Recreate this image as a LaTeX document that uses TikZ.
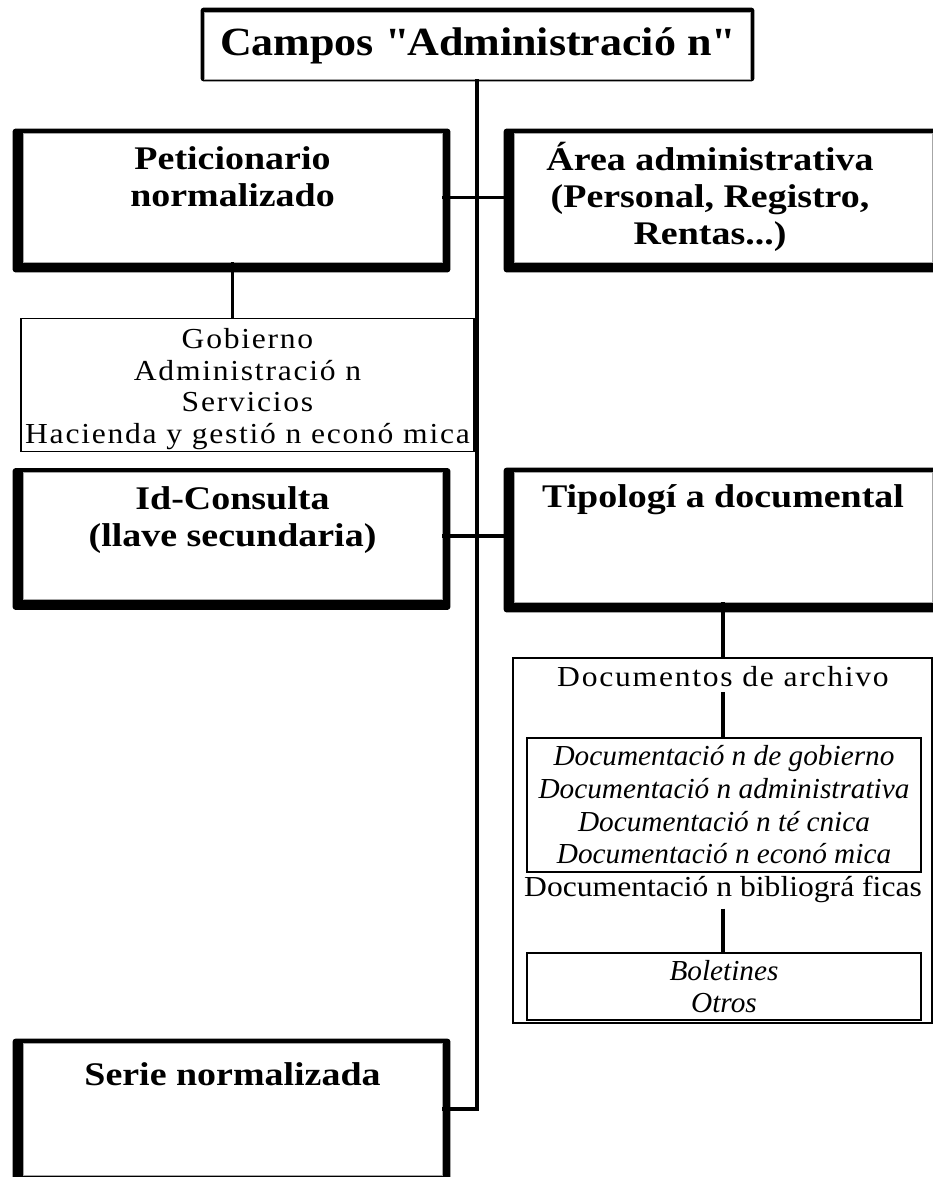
\documentclass[tikz,border=0pt]{standalone}
\usepackage{fontspec}
\setmainfont{Liberation Serif}
\newfontfamily\fuentetitulo[FakeStretch=1.1]{Liberation Serif}
\newfontfamily\fuenteneg[FakeStretch=1.15]{Liberation Serif}
\newfontfamily\fuentetexto[FakeStretch=1.09]{Liberation Serif}
\newfontfamily\fuenteespaciada[FakeStretch=1.09,LetterSpace=6]{Liberation Serif}
\newfontfamily\fuenteital[FakeStretch=1.01]{Liberation Serif}
\usetikzlibrary{positioning,backgrounds,calc}
\tikzset{
  marco/.style={rectangle, draw=gray!70, line width=0.8pt, fill=white, inner sep=0pt},
  cajafina/.style={rectangle, draw=black, line width=1.5pt, fill=white, inner sep=0pt},
  titulotexto/.style={font=\fuentetitulo\fontsize{40}{46}\selectfont\bfseries, inner sep=0pt},
  textoneg/.style={font=\fuenteneg\fontsize{33}{37}\selectfont\bfseries, align=center, inner sep=0pt, anchor=north},
  textonormal/.style={font=\fuentetexto\fontsize{29}{31.7}\selectfont, align=center, inner sep=0pt},
  textoespaciado/.style={textonormal, font=\fuenteespaciada\fontsize{29}{31.7}\selectfont},
  textoital/.style={font=\fuenteital\fontsize{29}{32.7}\selectfont\itshape, align=center, inner sep=0pt},
  linea/.style={line width=3.3pt, black},
}

\begin{document}
\begin{tikzpicture}[x=1pt, y=-1pt]
\useasboundingbox (0,0) rectangle (933,1177);

% title
\node[marco, minimum width=546, minimum height=67] (titulo) at (477,45.5) {};
\node[titulotexto] (titulotxt) at (titulo) {Campos \textquotedbl Administració n\textquotedbl};

% left column
\node[marco, minimum width=419, minimum height=129] (peticion) at (232.5,197.5) {};
\node[textoneg, yshift=-14pt] (peticiontxt) at (peticion.north) {Peticionario\\normalizado};
\node[cajafina, minimum width=453, minimum height=133] (gobierno) at (247.5,385) {};
\node[textoespaciado, yshift=-4pt] (gobiernotxt) at (gobierno) {Gobierno\\Administració n\\Servicios\\Hacienda y gestió n econó mica};
\node[marco, minimum width=419, minimum height=127] (idcons) at (232.5,536) {};
\node[textoneg, yshift=-14pt] (idconstxt) at (idcons.north) {Id-Consulta\\(llave secundaria)};
\node[marco, minimum width=419, minimum height=132] (serie) at (232.5,1109) {};
\node[textoneg, yshift=-20pt] (serietxt) at (serie.north) {Serie normalizada};

% right column
\node[marco, minimum width=418, minimum height=129] (area) at (723,197.5) {};
\node[textoneg, yshift=-9pt, xshift=-13pt] (areatxt) at (area.north) {Área administrativa\\(Personal, Registro,\\Rentas...)};
\node[marco, minimum width=418, minimum height=130] (tipol) at (723,537) {};
\node[textoneg, yshift=-13pt] (tipoltxt) at (tipol.north) {Tipologí a documental};
\node[cajafina, minimum width=419, minimum height=365] (docs) at (722.5,840.5) {};
\node[textoespaciado] (archivo) at (723,677) {Documentos de archivo};
\node[cajafina, minimum width=394, minimum height=134] (italbox) at (724,805) {};
\node[textoital] (italtxt) at (italbox) {Documentació n de gobierno\\Documentació n administrativa\\Documentació n té cnica\\Documentació n econó mica};
\node[textonormal] (biblio) at (723,889) {Documentació n bibliográ ficas};
\node[cajafina, minimum width=394, minimum height=67] (boletin) at (724,986.5) {};
\node[textoital] (boletintxt) at (boletin) {Boletines\\Otros};

% thick frames
\begin{scope}[on background layer]
\foreach \caja in {peticion,area,idcons,tipol,serie}
  \fill[rounded corners=3pt] ([shift={(-10,10)}]\caja.south west) rectangle ([shift={(8,-4)}]\caja.north east);
\fill[rounded corners=3pt] ([shift={(-3,2)}]titulo.south west) rectangle ([shift={(4,-4)}]titulo.north east);
\end{scope}

% connectors
\draw[linea] (titulo.south) -- (titulo.south |- serie.east) -- (serie.east);
\draw[linea] (peticion.east) -- (area.west);
\draw[linea] (idcons.east) -- (idcons.east -| tipol.west);
\draw[linea] (peticion.south) -- (peticion.south |- gobierno.north);
\draw[linea] (tipol.south) -- (tipol.south |- docs.north);
\draw[linea] ([yshift=-5pt]archivo.south) -- (archivo.south |- italbox.north);
\draw[linea] ([yshift=-6pt]biblio.south) -- (biblio.south |- boletin.north);
\end{tikzpicture}
\end{document}
